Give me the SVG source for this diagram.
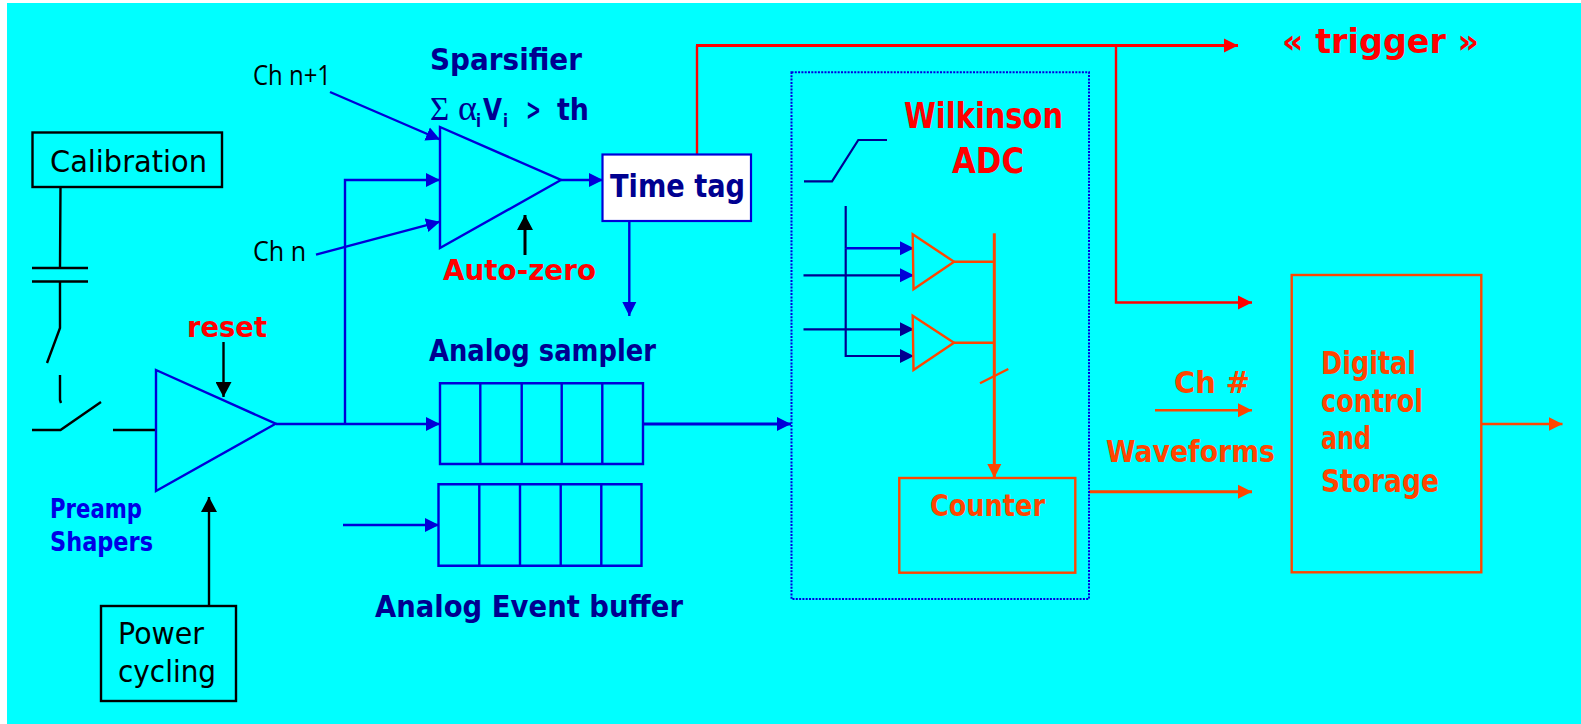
<svg xmlns="http://www.w3.org/2000/svg" width="1581" height="724" viewBox="0 0 1581 724">
<defs>
<style>
text{font-family:"DejaVu Sans","Liberation Sans",sans-serif;}
.bk{fill:#000;font-size:31px}
.ch{fill:#000;font-size:27px;font-family:"Open Sans","Liberation Sans",sans-serif}
.nv{fill:#000090;font-weight:bold;font-size:30px}
.bl{fill:#0000e6;font-weight:bold;font-size:26px}
.rd{fill:#ff0000;font-weight:bold;font-size:33px}
.or{fill:#ff4500;font-size:31px;font-weight:bold}
.sy{fill:#000090;font-family:"Liberation Serif","DejaVu Serif",serif}
.lk{stroke:#000;fill:none;stroke-width:2.4}
.lb{stroke:#0000d8;fill:none;stroke-width:2.4}
.ln{stroke:#000090;fill:none;stroke-width:2.2}
.lr{stroke:#ff0000;fill:none;stroke-width:2.4}
.lo{stroke:#ff4500;fill:none;stroke-width:2.4}
</style>
<marker id="ak" markerUnits="userSpaceOnUse" markerWidth="16" markerHeight="16" refX="15" refY="8" orient="auto"><path d="M0 0L15 8L0 16z" fill="#000"/></marker>
<marker id="ab" markerUnits="userSpaceOnUse" markerWidth="15" markerHeight="15" refX="14" refY="7.5" orient="auto"><path d="M0 .5L14 7.5L0 14.5z" fill="#0000d8"/></marker>
<marker id="an" markerUnits="userSpaceOnUse" markerWidth="15" markerHeight="15" refX="14" refY="7.5" orient="auto"><path d="M0 .5L14 7.5L0 14.5z" fill="#000090"/></marker>
<marker id="ar" markerUnits="userSpaceOnUse" markerWidth="15" markerHeight="15" refX="14" refY="7.5" orient="auto"><path d="M0 .5L14 7.5L0 14.5z" fill="#ff0000"/></marker>
<marker id="ao" markerUnits="userSpaceOnUse" markerWidth="15" markerHeight="15" refX="14" refY="7.5" orient="auto"><path d="M0 .5L14 7.5L0 14.5z" fill="#ff4500"/></marker>
</defs>
<rect width="1581" height="724" fill="#fff"/>
<rect x="7" y="3" width="1574" height="721" fill="#00ffff"/>

<g id="connectors">
<path class="lk" d="M60.5 187L60 268M60 282V328L47 363M60 375V400L61 403M32 430H60.5L101 402M113 430H156"/>
<path class="lk" marker-end="url(#ak)" d="M223.5 342V397"/>
<path class="lk" marker-end="url(#ak)" d="M209 607V497"/>
<path class="lk" style="stroke-width:3" marker-end="url(#ak)" d="M525 255V215"/>
<path class="lb" marker-end="url(#ab)" d="M276 424H440"/>
<path class="lb" marker-end="url(#ab)" d="M345 424V180H440"/>
<path class="lb" marker-end="url(#ab)" d="M330 92L440 139.5"/>
<path class="lb" marker-end="url(#ab)" d="M316 254.7L440 221.7"/>
<path class="lb" marker-end="url(#ab)" d="M561 180H603"/>
<path class="lb" marker-end="url(#ab)" d="M629.3 221V316"/>
<path class="lb" style="stroke-width:2.8" marker-end="url(#ab)" d="M643 424H791"/>
<path class="lb" marker-end="url(#ab)" d="M343 525H439"/>
<path class="lr" d="M697 154V45.5"/>
<path class="lr" style="stroke-width:3.2" marker-end="url(#ar)" d="M696 45.5H1238"/>
<path class="lr" marker-end="url(#ar)" d="M1116 45.5V302.5H1252"/>
<path class="ln" d="M845.7 206V248.3"/>
<path class="ln" marker-end="url(#an)" d="M845.7 248.3V356H914"/>
<path class="lb" marker-end="url(#ab)" d="M845.7 248.3H914"/>
<path class="ln" marker-end="url(#ab)" d="M803.5 275.3H914"/>
<path class="ln" marker-end="url(#an)" d="M803.5 329.3H914"/>
<path class="ln" d="M804 181.3H832L858.3 140H887"/>
<path class="lo" d="M954 261.7H994M954 342.7H994M980 383.3L1008.3 369"/>
<path class="lo" style="stroke-width:3" marker-end="url(#ao)" d="M994.3 233.3V478"/>
<path class="lo" style="stroke-width:3" marker-end="url(#ao)" d="M1089 491.7H1252"/>
<path class="lo" marker-end="url(#ao)" d="M1155 410.3H1252"/>
<path class="lo" marker-end="url(#ao)" d="M1481 424H1562.5"/>
</g>

<g id="calibration">
<rect class="lk" x="32.5" y="132.5" width="189.5" height="54.5"/>
<text class="bk" x="50" y="172" textLength="157" lengthAdjust="spacingAndGlyphs">Calibration</text>
</g>
<g id="capacitor"><path class="lk" d="M32 268H88M32 281.5H88"/></g>
<g id="power-cycling">
<rect class="lk" x="101" y="606" width="135" height="95"/>
<text class="bk" x="118" y="643.7" textLength="86" lengthAdjust="spacingAndGlyphs">Power</text>
<text class="bk" x="118" y="682" textLength="98" lengthAdjust="spacingAndGlyphs">cycling</text>
</g>
<g id="preamp">
<path class="lb" d="M156 370V491L275.7 423.7z"/>
<text class="bl" x="50" y="517.7" textLength="92" lengthAdjust="spacingAndGlyphs">Preamp</text>
<text class="bl" x="50" y="551" textLength="103" lengthAdjust="spacingAndGlyphs">Shapers</text>
</g>
<g id="reset"><text class="rd" style="font-size:29px" x="187" y="336.7" textLength="80" lengthAdjust="spacingAndGlyphs">reset</text></g>
<g id="ch-n1"><text class="ch" x="253" y="85" textLength="78" lengthAdjust="spacingAndGlyphs">Ch n+1</text></g>
<g id="ch-n"><text class="ch" x="253" y="261" textLength="53" lengthAdjust="spacingAndGlyphs">Ch n</text></g>
<g id="sparsifier">
<path class="lb" d="M440 127V248L561 180z"/>
<text class="nv" x="430" y="70" textLength="152" lengthAdjust="spacingAndGlyphs">Sparsifier</text>
<text class="sy" style="font-size:33px" x="430" y="120">Σ</text>
<text class="sy" style="font-size:36px" x="458" y="120">α</text>
<text style="fill:#000090;font-size:18px;font-weight:bold" x="476" y="127" textLength="5" lengthAdjust="spacingAndGlyphs">i</text>
<text style="fill:#000090;font-size:30px;font-weight:bold" x="483" y="120" textLength="19" lengthAdjust="spacingAndGlyphs">V</text>
<text style="fill:#000090;font-size:18px;font-weight:bold" x="503" y="127" textLength="5" lengthAdjust="spacingAndGlyphs">i</text>
<text class="nv" x="526" y="120" textLength="15" lengthAdjust="spacingAndGlyphs">&gt;</text>
<text class="nv" x="557" y="120" textLength="32" lengthAdjust="spacingAndGlyphs">th</text>
</g>
<g id="auto-zero"><text class="rd" style="font-size:29px" x="443" y="280" textLength="153" lengthAdjust="spacingAndGlyphs">Auto-zero</text></g>
<g id="time-tag">
<rect x="602.5" y="154.5" width="148.5" height="66.5" fill="#fff" stroke="#0000d8" stroke-width="2.2"/>
<text class="nv" style="font-size:32px" x="610" y="197" textLength="135" lengthAdjust="spacingAndGlyphs">Time tag</text>
</g>
<g id="analog-sampler">
<path class="lb" d="M440 383.3H643V464H440zM480.3 383.3V464M521.7 383.3V464M561.7 383.3V464M602.3 383.3V464"/>
<text class="nv" x="429" y="360.7" textLength="227" lengthAdjust="spacingAndGlyphs">Analog sampler</text>
</g>
<g id="analog-event-buffer">
<path class="lb" d="M438.5 484.3H641.5V565.7H438.5zM479.3 484.3V565.7M520 484.3V565.7M560.7 484.3V565.7M601.3 484.3V565.7"/>
<text class="nv" x="375" y="616.7" textLength="308" lengthAdjust="spacingAndGlyphs">Analog Event buffer</text>
</g>
<g id="wilkinson-adc">
<rect x="791.5" y="72.3" width="297.5" height="526.7" fill="none" stroke="#0000e0" stroke-width="2" stroke-dasharray="2 1.3"/>
<text class="rd" style="font-size:35px" x="904" y="128.3" textLength="159" lengthAdjust="spacingAndGlyphs">Wilkinson</text>
<text class="rd" style="font-size:35px" x="952" y="172.7" textLength="72" lengthAdjust="spacingAndGlyphs">ADC</text>
</g>
<g id="comparator-1"><path class="lo" d="M912.7 234.3L913.5 289.3L954 261.7z"/></g>
<g id="comparator-2"><path class="lo" d="M912.7 315.7L913.5 370L954 342.7z"/></g>
<g id="counter">
<rect class="lo" x="899.3" y="478" width="176" height="94.7"/>
<text class="or" style="font-size:30px" x="930" y="516" textLength="115" lengthAdjust="spacingAndGlyphs">Counter</text>
</g>
<g id="trigger"><text class="rd" x="1282" y="53.3" textLength="197" lengthAdjust="spacingAndGlyphs">« trigger »</text></g>
<g id="ch-hash"><text class="or" style="font-size:30px" x="1174" y="393" textLength="76" lengthAdjust="spacingAndGlyphs">Ch #</text></g>
<g id="waveforms"><text class="or" x="1106" y="461.7" textLength="169" lengthAdjust="spacingAndGlyphs">Waveforms</text></g>
<g id="digital-control">
<rect class="lo" x="1291.7" y="275" width="189.6" height="297.3"/>
<text class="or" style="font-size:32px" x="1321" y="374" textLength="95" lengthAdjust="spacingAndGlyphs">Digital</text>
<text class="or" style="font-size:32px" x="1321" y="411.7" textLength="102" lengthAdjust="spacingAndGlyphs">control</text>
<text class="or" style="font-size:32px" x="1321" y="449" textLength="50" lengthAdjust="spacingAndGlyphs">and</text>
<text class="or" style="font-size:32px" x="1321" y="491.7" textLength="118" lengthAdjust="spacingAndGlyphs">Storage</text>
</g>
</svg>
